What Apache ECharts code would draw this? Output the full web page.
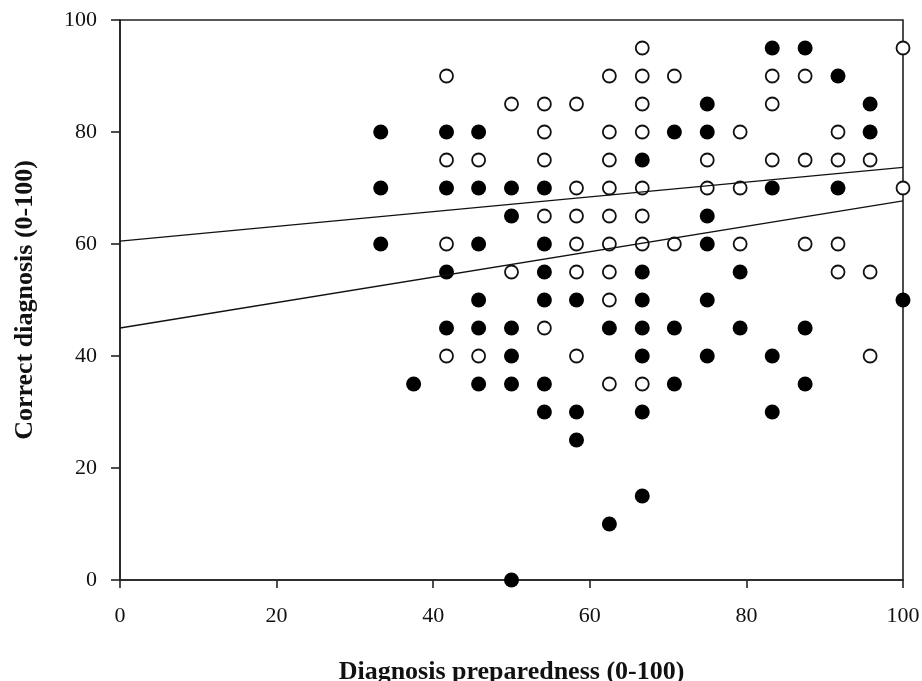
<!DOCTYPE html>
<html>
<head>
<meta charset="utf-8">
<script src="https://cdn.jsdelivr.net/npm/echarts@6/dist/echarts.min.js"></script>
<style>
  html, body { margin: 0; padding: 0; background: #fff; }
  #chart { width: 922px; height: 681px; }
</style>
</head>
<body>
<div id="chart"></div>
<script>
  // x positions of the point columns (preparedness score)
  var colX = [33.3, 37.5, 41.7, 45.8, 50, 54.2, 58.3, 62.5, 66.7, 70.8, 75, 79.2, 83.3, 87.5, 91.7, 95.8, 100];
  // correct diagnosis values per column, filled markers
  var filledY = [
      [80, 70, 60],
      [35],
      [80, 70, 55, 45],
      [80, 70, 60, 50, 45, 35],
      [70, 65, 45, 40, 35, 0],
      [70, 60, 55, 50, 35, 30],
      [50, 30, 25],
      [45, 10],
      [75, 55, 50, 45, 40, 30, 15],
      [80, 45, 35],
      [85, 80, 65, 60, 50, 40],
      [55, 45],
      [95, 70, 40, 30],
      [95, 45, 35],
      [90, 70],
      [85, 80],
      [50]
  ];
  // open markers
  var openY = [
      [],
      [],
      [90, 75, 60, 40],
      [75, 40],
      [85, 55],
      [85, 80, 75, 65, 45],
      [85, 70, 65, 60, 55, 40],
      [90, 80, 75, 70, 65, 60, 55, 50, 35],
      [95, 90, 85, 80, 70, 65, 60, 35],
      [90, 60],
      [75, 70],
      [80, 70, 60],
      [90, 85, 75],
      [90, 75, 60],
      [80, 75, 60, 55],
      [75, 55, 40],
      [95, 70]
  ];
  // two fitted regression lines (value at x = 0 and x = 100)
  var lineUpper = [[0, 60.5], [100, 73.7]];
  var lineLower = [[0, 45], [100, 67.7]];

  function toPoints(ys) {
      var out = [];
      for (var i = 0; i < colX.length; i++) {
          ys[i].forEach(function (y) { out.push([colX[i], y]); });
      }
      return out;
  }

  var serif = 'Liberation Serif';
  var myChart = echarts.init(document.getElementById('chart'));
  var option = {
      animation: false,
      backgroundColor: '#fff',
      grid: {
          left: 120, right: 19, top: 20, bottom: 101,
          outerBoundsMode: 'none', containLabel: false,
          show: true, borderColor: '#222', borderWidth: 1.6
      },
      xAxis: {
          type: 'value', min: 0, max: 100, interval: 20,
          name: 'Diagnosis preparedness (0-100)',
          nameLocation: 'middle', nameGap: 79,
          nameTextStyle: { fontFamily: serif, fontWeight: 'bold', fontSize: 26, color: '#111' },
          axisLine: { show: true, lineStyle: { color: '#222', width: 1.6 } },
          axisTick: { show: true, inside: false, length: 8, lineStyle: { color: '#222', width: 1.6 } },
          axisLabel: { fontFamily: serif, fontSize: 22, color: '#111', margin: 25 },
          splitLine: { show: false }
      },
      yAxis: {
          type: 'value', min: 0, max: 100, interval: 20,
          name: 'Correct diagnosis (0-100)',
          nameLocation: 'middle', nameGap: 82,
          nameTextStyle: { fontFamily: serif, fontWeight: 'bold', fontSize: 26, color: '#111' },
          axisLine: { show: true, lineStyle: { color: '#222', width: 1.6 } },
          axisTick: { show: true, inside: false, length: 9, lineStyle: { color: '#222', width: 1.6 } },
          axisLabel: { fontFamily: serif, fontSize: 22, color: '#111', margin: 23 },
          splitLine: { show: false }
      },
      series: [
          {
              name: 'open', type: 'scatter', symbol: 'circle', symbolSize: 13,
              itemStyle: { color: '#fff', borderColor: '#111', borderWidth: 1.8, opacity: 1 },
              data: toPoints(openY), z: 3
          },
          {
              name: 'filled', type: 'scatter', symbol: 'circle', symbolSize: 15,
              itemStyle: { color: '#000', opacity: 1 },
              data: toPoints(filledY), z: 3
          },
          {
              name: 'upper', type: 'line', data: lineUpper, symbol: 'none',
              lineStyle: { color: '#111', width: 1.3 }, z: 4, silent: true
          },
          {
              name: 'lower', type: 'line', data: lineLower, symbol: 'none',
              lineStyle: { color: '#111', width: 1.3 }, z: 4, silent: true
          }
      ]
  };
  myChart.setOption(option);
</script>
</body>
</html>
